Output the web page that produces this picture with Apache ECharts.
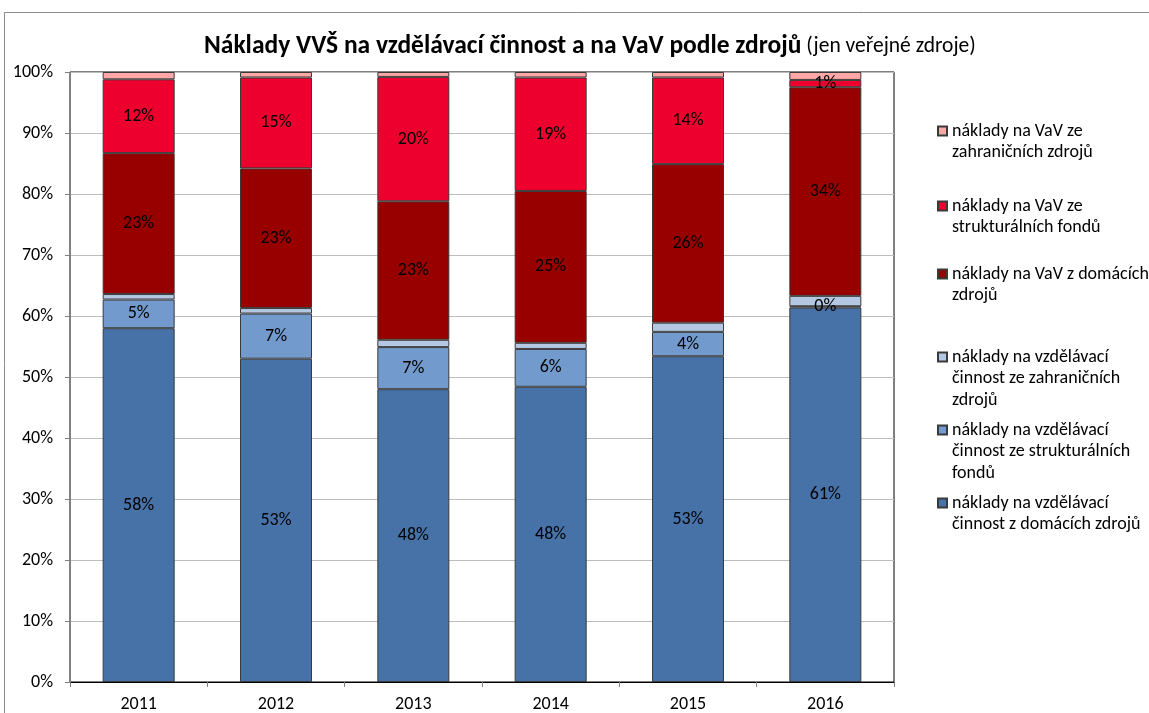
<!DOCTYPE html>
<html>
<head>
<meta charset="utf-8">
<script src="https://cdn.jsdelivr.net/npm/echarts@6/dist/echarts.min.js"></script>
<style>html,body{margin:0;padding:0;background:#fff}#c{width:1149px;height:713px}</style>
</head>
<body>
<div id="c"></div>
<script>
const years = ['2011', '2012', '2013', '2014', '2015', '2016'];
const eduDomestic   = [58.0, 53.0, 48.0, 48.4, 53.4, 61.4];
const eduStructural = [4.7, 7.4, 6.9, 6.2, 4.0, 0.2];
const eduForeign    = [0.9, 0.9, 1.2, 1.0, 1.5, 1.7];
const rdDomestic    = [23.1, 22.9, 22.7, 24.9, 26.0, 34.2];
const rdStructural  = [12.1, 14.9, 20.4, 18.6, 14.2, 1.2];
const rdForeign     = [1.2, 0.9, 0.8, 0.9, 0.9, 1.3];
const yTicks = [0, 10, 20, 30, 40, 50, 60, 70, 80, 90, 100];

const names = {
  eduDomestic: 'náklady na vzdělávací činnost z domácích zdrojů',
  eduStructural: 'náklady na vzdělávací činnost ze strukturálních fondů',
  eduForeign: 'náklady na vzdělávací činnost ze zahraničních zdrojů',
  rdDomestic: 'náklady na VaV z domácích zdrojů',
  rdStructural: 'náklady na VaV ze strukturálních fondů',
  rdForeign: 'náklady na VaV ze zahraničních zdrojů'
};
const legendLines = {};
legendLines[names.rdForeign] = ['náklady na VaV ze', 'zahraničních zdrojů'];
legendLines[names.rdStructural] = ['náklady na VaV ze', 'strukturálních fondů'];
legendLines[names.rdDomestic] = ['náklady na VaV z domácích', 'zdrojů'];
legendLines[names.eduForeign] = ['náklady na vzdělávací', 'činnost ze zahraničních', 'zdrojů'];
legendLines[names.eduStructural] = ['náklady na vzdělávací', 'činnost ze strukturálních', 'fondů'];
legendLines[names.eduDomestic] = ['náklady na vzdělávací', 'činnost z domácích zdrojů'];

const FONT = 'Carlito, Lato, "Open Sans", sans-serif';
const LH = 21.5;

function mkSeries(name, data, color, label) {
  return {
    name: name, type: 'bar', stack: 'all', data: data, barWidth: 72,
    itemStyle: { color: color, borderColor: '#3a3a3a', borderWidth: 1 },
    label: {
      show: label, position: 'inside', color: '#000', fontSize: 18, fontFamily: FONT,
      formatter: p => Math.round(p.value) + '%'
    },
    emphasis: { disabled: true }
  };
}

const series = [
  mkSeries(names.eduDomestic, eduDomestic, '#4672A7', true),
  mkSeries(names.eduStructural, eduStructural, '#729ACD', true),
  mkSeries(names.eduForeign, eduForeign, '#B4C8E4', false),
  mkSeries(names.rdDomestic, rdDomestic, '#980000', true),
  mkSeries(names.rdStructural, rdStructural, '#EE002E', true),
  mkSeries(names.rdForeign, rdForeign, '#FFA6A6', false)
];

const legendOrder = [names.rdForeign, names.rdStructural, names.rdDomestic,
                     names.eduForeign, names.eduStructural, names.eduDomestic];
const firstLineY = [131, 206, 274, 357, 430, 503];
const legends = legendOrder.map((nm, i) => {
  const n = legendLines[nm].length;
  return {
    data: [nm], orient: 'vertical', left: 937, top: firstLineY[i] - (2 * n - 1) * LH / 2,
    padding: 0, itemWidth: 9, itemHeight: 9, icon: 'rect', selectedMode: false,
    formatter: name => '\n'.repeat(legendLines[name].length - 1) + legendLines[name].join('\n'),
    textStyle: { fontSize: 18, fontFamily: FONT, color: '#000', lineHeight: LH }
  };
});

const chart = echarts.init(document.getElementById('c'), null, { renderer: 'canvas' });
chart.setOption({
  animation: false,
  backgroundColor: '#fff',
  title: {
    text: '{b|Náklady VVŠ na vzdělávací činnost a na VaV podle zdrojů} {n|(jen veřejné zdroje)}',
    left: 199, top: 29,
    textStyle: {
      fontWeight: 'normal',
      rich: {
        b: { fontSize: 25.5, fontWeight: 'bold', fontFamily: FONT, color: '#000' },
        n: { fontSize: 21.5, fontWeight: 'normal', fontFamily: FONT, color: '#000' }
      }
    }
  },
  graphic: [{
    type: 'rect', shape: { x: 4.5, y: 12.5, width: 1300, height: 900 },
    style: { fill: 'none', stroke: '#8c8c8c', lineWidth: 1 }, silent: true, z: -10
  }],
  legend: legends,
  grid: { left: 70, right: 255, top: 72, bottom: 31, show: true, borderColor: '#000', borderWidth: 1, backgroundColor: 'transparent' },
  xAxis: {
    type: 'category', data: years,
    axisLine: { lineStyle: { color: '#000', width: 1 } },
    axisTick: { show: true, length: 5, lineStyle: { color: '#808080' } },
    axisLabel: { color: '#000', fontSize: 18, fontFamily: FONT, margin: 13 }
  },
  yAxis: {
    type: 'value', min: 0, max: 100, interval: 10,
    axisLine: { show: true, lineStyle: { color: '#808080' } },
    axisTick: { show: true, length: 5, lineStyle: { color: '#808080' } },
    splitLine: { lineStyle: { color: '#bcbcbc', width: 1 } },
    axisLabel: {
      color: '#000', fontSize: 18, fontFamily: FONT, margin: 17,
      formatter: v => (yTicks.indexOf(v) >= 0 ? v + '%' : '')
    }
  },
  series: series
});
</script>
</body>
</html>
